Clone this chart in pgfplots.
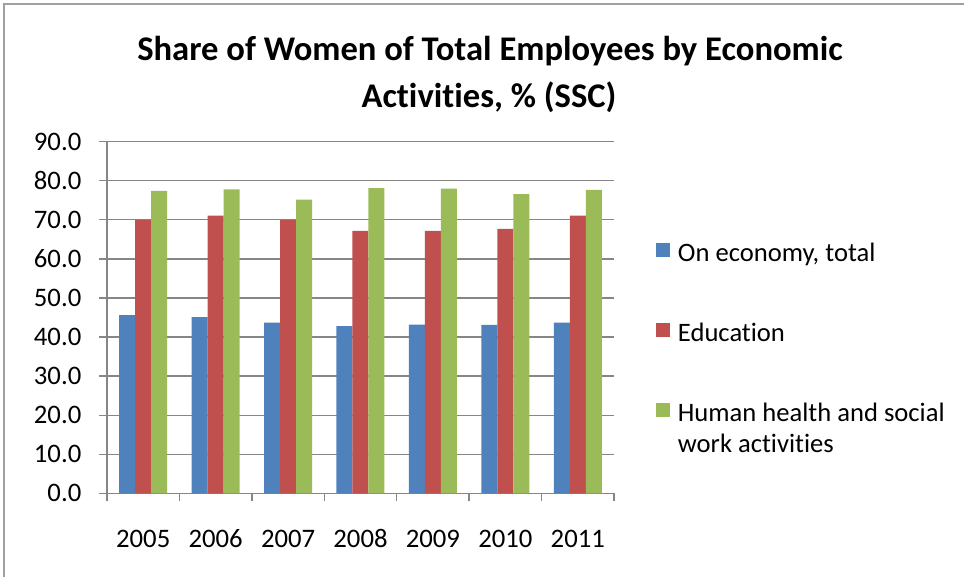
\documentclass[border=0pt]{standalone}
\usepackage{fontspec}
\setmainfont{Carlito}[Ligatures={NoCommon}]
\usepackage{pgfplots}
\pgfplotsset{compat=1.18}
\definecolor{cblue}{HTML}{4F81BD}
\definecolor{cred}{HTML}{C0504D}
\definecolor{cgreen}{HTML}{9BBB59}
\definecolor{axgray}{HTML}{868686}
\definecolor{framegray}{HTML}{A0A0A0}
\pgfplotsset{sqlegend/.style={legend image code/.code={\fill[##1,draw=none] (0pt,-2pt) rectangle (14pt,12pt); \path (22pt,0pt);}}}
\begin{document}
\begin{tikzpicture}[x=1pt,y=1pt]
\useasboundingbox (0,0) rectangle (964,-576);
\clip (0,0) rectangle (964,-576);
\draw[line width=2pt, draw=framegray] (4.3,-4.3) rectangle (1000,-700);
\node[anchor=base, inner sep=0pt, font=\fontsize{34.6}{40}\selectfont\bfseries] at (490,-60.3) {Share of Women of Total Employees by Economic};
\node[anchor=base, inner sep=0pt, font=\fontsize{34.6}{40}\selectfont\bfseries] at (489,-107.3) {Activities, \% (SSC)};
\begin{axis}[
  at={(107pt,-493.3pt)}, anchor=south west,
  scale only axis, width=507pt, height=351.6pt,
  ybar=0pt, bar width=16pt,
  xmin=-0.5, xmax=6.5, ymin=0, ymax=90,
  xtick={-0.5,0.5,...,6.5},
  x tick label as interval,
  xticklabels={2005,2006,2007,2008,2009,2010,2011},
  ytick={0,10,...,90},
  axis lines=left,
  axis line style={-, draw=axgray, line width=1.4pt},
  ymajorgrids, grid style={draw=axgray, line width=1.3pt},
  tick style={draw=axgray, line width=1.3pt},
  tick align=outside, major tick length=7.5pt,
  ticklabel style={font=\fontsize{26.7}{30}\selectfont},
  yticklabel style={/pgf/number format/.cd, fixed, fixed zerofill, precision=1, assume math mode=true, /tikz/.cd, anchor=east, inner sep=0pt, xshift=-18pt},
  xticklabel style={anchor=north, inner sep=0pt, text height=17pt, text depth=0pt, yshift=-29pt},
  legend cell align=left,
  legend style={at={(1.0827,0.7156)}, anchor=north west, draw=none, fill=none, inner sep=0pt, outer sep=0pt, row sep=54pt, column sep=0pt,
    nodes={inner sep=0pt, outer sep=0pt, text height=20pt, text depth=6pt, font=\fontsize{26.6}{30.3}\selectfont}},
]
\addplot[fill=cblue, draw=none, sqlegend] coordinates {(0,45.6) (1,45.1) (2,43.7) (3,42.8) (4,43.2) (5,43.1) (6,43.7)};
\addlegendentry{On economy, total}
\addplot[fill=cred, draw=none, sqlegend] coordinates {(0,70.0) (1,71.1) (2,69.9) (3,67.2) (4,67.2) (5,67.7) (6,71.1)};
\addlegendentry{Education}
\addplot[fill=cgreen, draw=none, sqlegend] coordinates {(0,77.4) (1,77.8) (2,75.2) (3,78.1) (4,78.0) (5,76.6) (6,77.7)};
\addlegendentry{\begin{tabular}[t]{@{}l@{}}Human health and social\\work activities\end{tabular}}
\end{axis}
\end{tikzpicture}
\end{document}
